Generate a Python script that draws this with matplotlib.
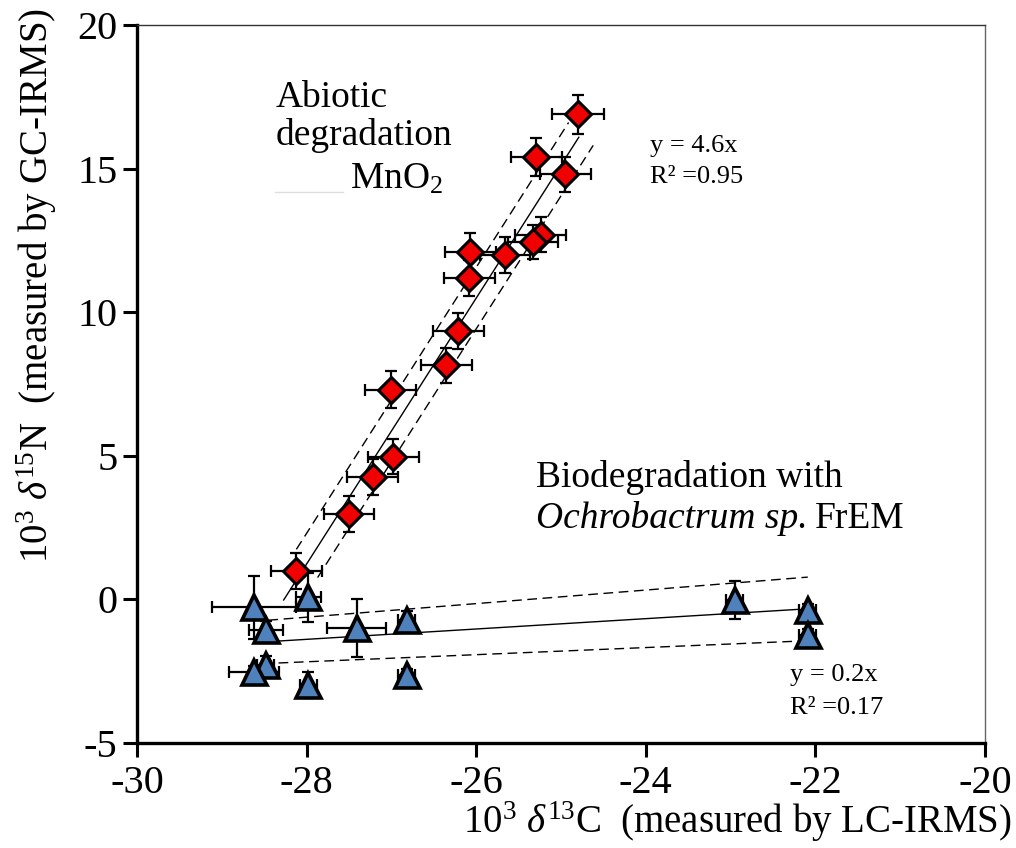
import numpy as np
import matplotlib
matplotlib.use("Agg")
import matplotlib.pyplot as plt

plt.rcParams["font.family"] = ["Liberation Serif", "DejaVu Serif"]
plt.rcParams["mathtext.fontset"] = "custom"
plt.rcParams["mathtext.rm"] = "Liberation Serif"
plt.rcParams["mathtext.it"] = "Liberation Serif:italic"
plt.rcParams["axes.unicode_minus"] = False

# abiotic degradation with MnO2 (red diamonds)
abio_c = [-24.80, -25.29, -24.95, -25.24, -25.33, -26.07, -25.66, -26.08,
          -26.21, -26.35, -27.01, -26.98, -27.22, -27.50, -28.12]
abio_n = [16.9, 15.4, 14.8, 12.7, 12.45, 12.1, 12.0, 11.2,
          9.35, 8.15, 7.3, 4.97, 4.27, 2.97, 0.98]
abio_cerr = [0.31, 0.30, 0.30, 0.30, 0.30, 0.30, 0.30, 0.30,
             0.30, 0.30, 0.30, 0.30, 0.30, 0.30, 0.30]
abio_nerr = [0.68, 0.65, 0.62, 0.62, 0.60, 0.65, 0.62, 0.62,
             0.62, 0.62, 0.65, 0.62, 0.62, 0.62, 0.62]

# biodegradation with Ochrobactrum sp. FrEM (blue triangles)
bio_c = [-28.62, -27.98, -28.48, -27.41, -26.82, -28.48,
         -28.62, -27.98, -26.82, -22.95, -22.09, -22.09]
bio_n = [-0.27, 0.08, -1.06, -0.99, -0.72, -2.28,
         -2.53, -2.98, -2.63, -0.02, -0.37, -1.24]
bio_cerr = [0.50, 0.15, 0.20, 0.35, 0.10, 0.10,
            0.30, 0.10, 0.10, 0.10, 0.10, 0.10]
bio_nerr = [1.10, 0.85, 0.30, 1.00, 0.30, 0.30,
            0.20, 0.45, 0.20, 0.65, 0.20, 0.20]

# regression lines: (slope, intercept, x start, x end)
abio_fit = (4.63, 130.87, -28.27, -24.79)
abio_upper = (4.63, 131.94, -28.12, -24.91)
abio_lower = (4.63, 129.80, -27.87, -24.62)
bio_fit = (0.18, 3.65, -28.35, -22.20)
bio_upper = (0.236, 5.99, -28.45, -22.09)
bio_lower = (0.124, 1.30, -28.33, -22.20)

fig = plt.figure(figsize=(10.16, 8.48), dpi=100)
ax = fig.add_axes([0.1348, 0.1238, 0.8347, 0.8467])


def fit_line(params, **kw):
    m, b, x0, x1 = params
    xs = np.array([x0, x1])
    ax.plot(xs, m * xs + b, color="black", lw=1.0, zorder=2, **kw)


fit_line(abio_fit)
fit_line(abio_upper, ls=(0, (7, 4)))
fit_line(abio_lower, ls=(0, (7, 4)))
fit_line(bio_fit)
fit_line(bio_upper, ls=(0, (7, 4)))
fit_line(bio_lower, ls=(0, (7, 4)))

ax.errorbar(bio_c, bio_n, xerr=bio_cerr, yerr=bio_nerr, fmt="none",
            ecolor="black", elinewidth=1.6, capsize=4, capthick=1.6, zorder=3)
ax.plot(bio_c, bio_n, ls="none", marker="^", ms=18, mfc="#4F81BD",
        mec="black", mew=2.6, zorder=4)

ax.errorbar(abio_c, abio_n, xerr=abio_cerr, yerr=abio_nerr, fmt="none",
            ecolor="black", elinewidth=1.6, capsize=4, capthick=1.6, zorder=5)
ax.plot(abio_c, abio_n, ls="none", marker="D", ms=13.5, mfc="#F00000",
        mec="black", mew=2.2, zorder=6)

ax.set_xlim(-30, -20)
ax.set_ylim(-5, 20)
ax.set_xticks(np.arange(-30, -19, 2))
ax.set_yticks(np.arange(-5, 21, 5))
ax.tick_params(direction="out", length=10, width=2.2, labelsize=29)
ax.tick_params(axis="x", pad=6)
ax.tick_params(axis="y", pad=4)

for side in ["left", "bottom"]:
    ax.spines[side].set_linewidth(2.4)
ax.spines["top"].set_linewidth(1.0)
ax.spines["top"].set_color("#333333")
ax.spines["right"].set_linewidth(1.0)
ax.spines["right"].set_color("#666666")

# annotations
ax.text(-28.37, 17.14, "Abiotic", fontsize=27, ha="left", va="baseline")
ax.text(-28.37, 15.82, "degradation", fontsize=27, ha="left", va="baseline")
ax.text(-27.49, 14.3, "MnO$_2$", fontsize=27, ha="left", va="baseline")
ax.plot([-28.37, -27.57], [14.19, 14.19], color="#dddddd", lw=1.0)
ax.text(-23.95, 15.58, "y = 4.6x", fontsize=19, ha="left", va="baseline")
ax.text(-23.95, 14.5, "R² =0.95", fontsize=19, ha="left", va="baseline")

ax.text(-25.29, 3.91, "Biodegradation with", fontsize=27, ha="left",
        va="baseline")
t_sp = ax.text(-25.29, 2.47, "Ochrobactrum sp.", fontsize=27,
               fontstyle="italic", ha="left", va="baseline")
fig.canvas.draw()
sp_end = t_sp.get_window_extent().x1
sp_end = ax.transData.inverted().transform((sp_end, 0))[0]
ax.text(sp_end + 0.08, 2.47, "FrEM", fontsize=27, ha="left", va="baseline")

ax.text(-22.3, -2.84, "y = 0.2x", fontsize=19, ha="left", va="baseline")
ax.text(-22.3, -3.98, "R² =0.17", fontsize=19, ha="left", va="baseline")

fig.text(37 / 1016, 1 - 285 / 848,
         "$10^3\\ \\delta^{15}$N  (measured by GC-IRMS)",
         fontsize=28, rotation=90, ha="center", va="center")
fig.text(1012 / 1016, 1 - 822 / 848,
         "$10^3\\ \\delta^{13}$C  (measured by LC-IRMS)",
         fontsize=28, ha="right", va="center")

fig.savefig("out.png", dpi=100)
